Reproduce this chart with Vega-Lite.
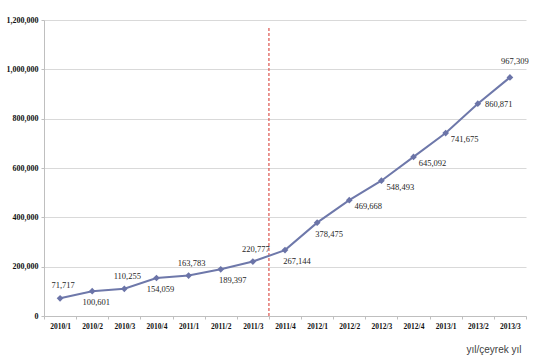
{
  "$schema": "https://vega.github.io/schema/vega-lite/v6.json",
  "width": 482,
  "height": 296,
  "autosize": {"type": "none"},
  "padding": {"left": 44, "top": 20, "right": 14, "bottom": 46},
  "config": {
    "view": {"stroke": null},
    "axis": {
      "labelFont": "Liberation Serif",
      "labelFontWeight": "bold",
      "labelColor": "#111111",
      "domainColor": "#BFBFBF",
      "tickColor": "#BFBFBF",
      "gridColor": "#D9D9D9"
    }
  },
  "data": {
    "values": [
      {"q": "2010/1", "v": 71717},
      {"q": "2010/2", "v": 100601},
      {"q": "2010/3", "v": 110255},
      {"q": "2010/4", "v": 154059},
      {"q": "2011/1", "v": 163783},
      {"q": "2011/2", "v": 189397},
      {"q": "2011/3", "v": 220777},
      {"q": "2011/4", "v": 267144},
      {"q": "2012/1", "v": 378475},
      {"q": "2012/2", "v": 469668},
      {"q": "2012/3", "v": 548493},
      {"q": "2012/4", "v": 645092},
      {"q": "2013/1", "v": 741675},
      {"q": "2013/2", "v": 860871},
      {"q": "2013/3", "v": 967309}
    ]
  },
  "encoding": {
    "x": {
      "field": "q",
      "type": "ordinal",
      "sort": null,
      "scale": {
        "type": "band",
        "paddingInner": 0,
        "paddingOuter": 0,
        "domain": ["2010/1", "2010/2", "2010/3", "2010/4", "2011/1", "2011/2", "2011/3", "2011/4", "2012/1", "2012/2", "2012/3", "2012/4", "2013/1", "2013/2", "2013/3"]
      },
      "axis": {
        "title": "yıl/çeyrek yıl",
        "titleFont": "Liberation Sans",
        "titleFontWeight": "normal",
        "titleFontSize": 10,
        "titleColor": "#404040",
        "titleAnchor": "end",
        "titleAlign": "right",
        "titleBaseline": "middle",
        "titleX": 477,
        "titleY": 33,
        "labelAngle": 0,
        "labelFontSize": 7.5,
        "labelPadding": 3,
        "tickSize": 3,
        "tickBand": "extent",
        "grid": false
      }
    },
    "y": {
      "field": "v",
      "type": "quantitative",
      "scale": {"domain": [0, 1200000]},
      "axis": {
        "title": null,
        "values": [0, 200000, 400000, 600000, 800000, 1000000, 1200000],
        "format": ",d",
        "labelFontSize": 8,
        "labelPadding": 3,
        "tickSize": 3,
        "grid": true,
        "domain": true
      }
    }
  },
  "layer": [
    {
      "data": {"values": [{"q": "2011/4", "v": 0, "top": 1175000}]},
      "mark": {"type": "rule", "color": "#E0605A", "strokeWidth": 1.3, "strokeDash": [3, 2]},
      "encoding": {
        "x": {"field": "q", "type": "ordinal", "bandPosition": 0},
        "y": {"field": "v", "type": "quantitative"},
        "y2": {"field": "top"}
      }
    },
    {
      "mark": {"type": "line", "color": "#6E78AA", "strokeWidth": 2}
    },
    {
      "mark": {"type": "point", "shape": "diamond", "filled": true, "size": 45, "color": "#6B74A8", "opacity": 1}
    },
    {
      "transform": [{"filter": {"field": "q", "oneOf": ["2010/1", "2010/3", "2011/1", "2011/3"]}}],
      "mark": {"type": "text", "font": "Liberation Serif", "fontSize": 8.5, "color": "#262626", "dx": 3, "dy": -13, "baseline": "middle"},
      "encoding": {"text": {"field": "v", "type": "quantitative", "format": ",d"}}
    },
    {
      "transform": [{"filter": {"field": "q", "oneOf": ["2013/3"]}}],
      "mark": {"type": "text", "font": "Liberation Serif", "fontSize": 8.5, "color": "#262626", "dx": 5, "dy": -16, "baseline": "middle"},
      "encoding": {"text": {"field": "v", "type": "quantitative", "format": ",d"}}
    },
    {
      "transform": [{"filter": {"field": "q", "oneOf": ["2010/2", "2010/4"]}}],
      "mark": {"type": "text", "font": "Liberation Serif", "fontSize": 8.5, "color": "#262626", "dx": 4, "dy": 11, "baseline": "middle"},
      "encoding": {"text": {"field": "v", "type": "quantitative", "format": ",d"}}
    },
    {
      "transform": [{"filter": {"field": "q", "oneOf": ["2011/2", "2011/4", "2012/1"]}}],
      "mark": {"type": "text", "font": "Liberation Serif", "fontSize": 8.5, "color": "#262626", "dx": 12, "dy": 11, "baseline": "middle"},
      "encoding": {"text": {"field": "v", "type": "quantitative", "format": ",d"}}
    },
    {
      "transform": [{"filter": {"field": "q", "oneOf": ["2012/2", "2012/3", "2012/4", "2013/1"]}}],
      "mark": {"type": "text", "font": "Liberation Serif", "fontSize": 8.5, "color": "#262626", "dx": 19, "dy": 6, "baseline": "middle"},
      "encoding": {"text": {"field": "v", "type": "quantitative", "format": ",d"}}
    },
    {
      "transform": [{"filter": {"field": "q", "oneOf": ["2013/2"]}}],
      "mark": {"type": "text", "font": "Liberation Serif", "fontSize": 8.5, "color": "#262626", "dx": 21, "dy": 0, "baseline": "middle"},
      "encoding": {"text": {"field": "v", "type": "quantitative", "format": ",d"}}
    }
  ]
}
